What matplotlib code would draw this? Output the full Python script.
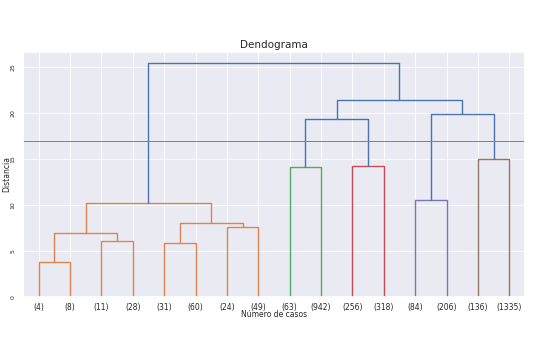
#! /usr/bin/python
# -*- coding:utf-8 -*-

import numpy as np
import matplotlib
matplotlib.use('Agg')
import matplotlib.pyplot as plt
import seaborn as sns


# ━━━━━━━━━━━━━━━━━━━━━━━━━━━━━━━━━━━━━━━━━━━━━━━━━━━━━━━━━━
# Data
# ━━━━━━━━━━━━━━━━━━━━━━━━━━━━━━━━━━━━━━━━━━━━━━━━━━━━━━━━━━
leaf_labels = ['(4)', '(8)', '(11)', '(28)', '(31)', '(60)', '(24)', '(49)',
               '(63)', '(942)', '(256)', '(318)', '(84)', '(206)', '(136)', '(1335)']

# linkage style: cluster n+i joins left[i] and right[i] at height[i]
link_left = [0, 4, 2, 16, 6, 17, 12, 19, 8, 10, 14, 24, 22, 27, 23]
link_right = [1, 5, 3, 18, 7, 20, 13, 21, 9, 11, 15, 25, 26, 28, 29]
link_height = [3.8, 5.9, 6.1, 7.0, 7.6, 8.0, 10.6, 10.2, 14.2, 14.3, 15.0,
               19.4, 19.9, 21.5, 25.5]

cut_height = 17


# ━━━━━━━━━━━━━━━━━━━━━━━━━━━━━━━━━━━━━━━━━━━━━━━━━━━━━━━━━━
# Main
# ━━━━━━━━━━━━━━━━━━━━━━━━━━━━━━━━━━━━━━━━━━━━━━━━━━━━━━━━━━
if __name__ == '__main__':
    sns.set_theme(style='darkgrid', rc={'grid.linewidth': 0.6,
                                        'xtick.major.size': 0,
                                        'ytick.major.size': 0})
    pal = sns.color_palette('deep')

    n = len(leaf_labels)
    xpos = {i: 5 + 10 * i for i in range(n)}
    ypos = {i: 0.0 for i in range(n)}
    for k in range(len(link_height)):
        a, b = link_left[k], link_right[k]
        xpos[n + k] = (xpos[a] + xpos[b]) / 2.0
        ypos[n + k] = link_height[k]

    # colour per cluster: each top cluster under the cut gets its own colour
    colour = {}
    next_col = [1]

    def paint(node, col):
        if node < n:
            return
        colour[node] = col
        k = node - n
        paint(link_left[k], col)
        paint(link_right[k], col)

    def walk(node):
        if node < n:
            return
        k = node - n
        if ypos[node] < cut_height:
            paint(node, pal[next_col[0]])
            next_col[0] += 1
        else:
            colour[node] = pal[0]
            walk(link_left[k])
            walk(link_right[k])

    walk(n + len(link_height) - 1)

    fig = plt.figure(figsize=(5.33, 3.55), dpi=100)
    ax = fig.add_axes([0.043, 0.164, 0.942, 0.69])

    for k in range(len(link_height)):
        a, b = link_left[k], link_right[k]
        node = n + k
        ax.plot([xpos[a], xpos[a], xpos[b], xpos[b]],
                [ypos[a], ypos[node], ypos[node], ypos[b]],
                color=colour[node], lw=1.0)

    ax.axhline(cut_height, color='#7f7f8a', lw=0.7)

    ax.set_xlim(0, 10 * n)
    ax.set_ylim(0, 26.7)
    ax.set_xticks([xpos[i] for i in range(n)])
    ax.set_xticklabels(leaf_labels, fontsize=5.5)
    ax.set_yticks([0, 5, 10, 15, 20, 25])
    ax.tick_params(axis='y', labelsize=4.5, pad=7.2)
    for t in ax.get_yticklabels():
        t.set_rotation(90)
        t.set_rotation_mode('default')
        t.set_horizontalalignment('center')
        t.set_verticalalignment('center')
    ax.tick_params(axis='x', pad=4.2)
    ax.set_title('Dendograma', fontsize=7.5, pad=3)
    ax.set_xlabel('Número de casos', fontsize=5.5, labelpad=-1)
    ax.set_ylabel('Distancia', fontsize=5.5)
    ax.yaxis.set_label_coords(-0.024, 0.5)

    fig.savefig('out.png', dpi=100)
